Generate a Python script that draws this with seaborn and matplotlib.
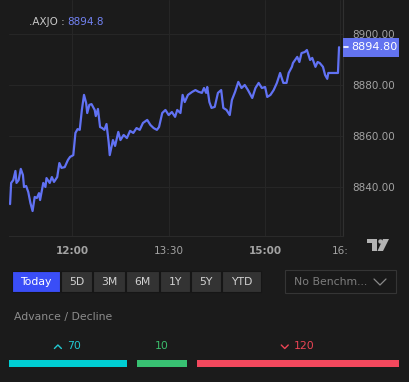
import numpy as np
import pandas as pd
import matplotlib
matplotlib.use("Agg")
import matplotlib.pyplot as plt
import matplotlib.transforms as mtransforms
from matplotlib.patches import Rectangle, Polygon, Circle
from matplotlib.lines import Line2D
import seaborn as sns

# ---------------- data ----------------
symbol = ".AXJO"
last_price = 8894.8
minutes = [662, 663, 665, 667, 668, 670, 672, 674, 675, 677, 679, 681, 683, 685, 687, 689, 690,
           693, 695, 696, 699, 701, 703, 706, 708, 710, 713, 716, 718, 721, 723, 725, 727, 729,
           731, 733, 734, 736, 738, 741, 742, 744, 746, 748, 750, 752, 754, 755, 758, 760, 763,
           765, 768, 771, 774, 777, 780, 783, 786, 790, 793, 796, 799, 801, 804, 807, 810, 813,
           816, 818, 821, 823, 825, 828, 832, 835, 838, 841, 843, 845, 846, 848, 850, 853, 856,
           859, 861, 864, 867, 869, 872, 875, 878, 881, 884, 888, 891, 894, 897, 900, 902, 905,
           908, 911, 914, 917, 920, 922, 925, 926, 930, 932, 934, 937, 939, 942, 944, 947, 949,
           951, 954, 956, 958, 959, 962, 968, 969]
prices = [8833.3, 8841.6, 8842.7, 8846.3, 8841.6, 8842.7, 8847.1, 8844.7, 8840.0, 8840.4, 8838.0,
          8833.7, 8830.6, 8836.1, 8835.7, 8837.6, 8834.9, 8841.6, 8840.0, 8843.5, 8841.6, 8843.9,
          8842.0, 8843.9, 8849.4, 8847.5, 8847.8, 8850.6, 8851.8, 8852.5, 8861.2, 8862.7, 8862.4,
          8870.2, 8876.1, 8872.9, 8869.0, 8872.2, 8872.5, 8870.2, 8867.8, 8870.6, 8863.5, 8863.1,
          8862.4, 8864.7, 8857.6, 8852.5, 8858.4, 8856.1, 8861.6, 8858.4, 8860.4, 8859.2, 8862.0,
          8861.2, 8863.1, 8862.4, 8865.1, 8866.3, 8864.3, 8863.1, 8862.4, 8863.5, 8869.0, 8870.2,
          8868.2, 8869.4, 8867.5, 8870.2, 8869.0, 8876.1, 8873.3, 8876.1, 8877.3, 8878.0, 8877.3,
          8876.9, 8878.8, 8876.9, 8879.2, 8873.3, 8871.0, 8871.4, 8876.9, 8878.0, 8871.0, 8870.2,
          8868.2, 8874.1, 8877.3, 8881.2, 8878.8, 8880.0, 8878.0, 8874.9, 8878.8, 8880.8, 8878.8,
          8879.2, 8875.3, 8876.1, 8878.0, 8880.8, 8884.7, 8880.8, 8880.8, 8884.7, 8887.1, 8888.6,
          8891.0, 8889.0, 8892.5, 8892.9, 8893.7, 8889.8, 8890.6, 8887.1, 8889.0, 8888.6, 8887.1,
          8883.9, 8882.4, 8884.7, 8884.7, 8884.7, 8894.8]
y_ticks = [8840, 8860, 8880, 8900]
x_tick_minutes = [720, 810, 900, 970]
x_tick_labels = ["12:00", "13:30", "15:00", "16:"]
range_buttons = ["Today", "5D", "3M", "6M", "1Y", "5Y", "YTD"]
benchmark_label = "No Benchm..."
breadth_title = "Advance / Decline"
breadth_counts = [70, 10, 120]
breadth_arrow = ["up", None, "down"]

# ---------------- style ----------------
sns.set_theme(style="dark")
plt.rcParams['font.family'] = ['DejaVu Sans']
BG = "#1b1b1b"
LINE = "#6172f4"
GRID = "#262626"
TXT = "#a3a3a3"

W, H = 410, 382
fig = plt.figure(figsize=(W / 100, H / 100), dpi=100, facecolor=BG)
PX = mtransforms.Affine2D().scale(1 / W, -1 / H).translate(0, 1) + fig.transFigure

# ---------------- main chart ----------------
ax = fig.add_axes([9 / W, 1 - 236 / H, 334 / W, 236 / H])
ax.set_facecolor(BG)
df = pd.DataFrame({"minute": minutes, "price": prices})
sns.lineplot(data=df, x="minute", y="price", ax=ax, color=LINE, lw=1.6, sort=False)
ax.set_xlim(661, 972.7)
ax.set_ylim(8820.8, 8913.3)
ax.set_xlabel("")
ax.set_ylabel("")
ax.grid(True, color=GRID, lw=0.8)
ax.set_axisbelow(True)
for s in ["top", "left"]:
    ax.spines[s].set_visible(False)
ax.spines["right"].set_color("#303030")
ax.spines["bottom"].set_color("#2a2a2a")
ax.spines["right"].set_linewidth(0.8)
ax.spines["bottom"].set_linewidth(0.8)

ax.yaxis.tick_right()
ax.set_yticks(y_ticks)
ax.set_yticklabels([f"{v:.2f}" for v in y_ticks])
ax.tick_params(axis="y", length=0, pad=6.5, labelcolor=TXT, labelsize=7.5)
ax.set_xticks(x_tick_minutes)
ax.set_xticklabels(x_tick_labels)
ax.tick_params(axis="x", length=0, pad=7, labelcolor=TXT, labelsize=7.5)
for lbl in ax.get_xticklabels():
    if lbl.get_text() in ("12:00", "15:00"):
        lbl.set_fontweight("bold")

# last price tag
ylo, yhi = ax.get_ylim()
units_per_px = (yhi - ylo) / 236
tag_tr = mtransforms.blended_transform_factory(fig.transFigure, ax.transData)
fig.add_artist(Rectangle((343 / W, last_price - 9.5 * units_per_px), 56 / W, 19 * units_per_px,
                         transform=tag_tr, facecolor="#6373f0", edgecolor="none", clip_on=False))
fig.add_artist(Line2D([344 / W, 348 / W], [last_price, last_price], transform=tag_tr,
                      color="white", lw=1.2))
fig.text(351 / W, last_price, f"{last_price:.2f}", transform=tag_tr, color="white",
         fontsize=8, va="center", ha="left")

# title
fig.text(29, 22, f"{symbol} : ", transform=PX, color="#c8c8c8", fontsize=7.5, va="center")
fig.text(67, 22, f"{last_price}", transform=PX, color="#7282f2", fontsize=7.5, va="center")

# TradingView logo
logo = "#b3b3b3"
fig.add_artist(Polygon([(367, 239), (377, 239), (377, 251), (372, 251), (372, 243), (367, 243)],
                       closed=True, transform=PX, facecolor=logo, edgecolor="none"))
fig.add_artist(Circle((380.5, 241.5), 2.2, transform=PX, facecolor=logo, edgecolor="none"))
fig.add_artist(Polygon([(383, 239), (389, 239), (383, 251), (377.5, 251)],
                       closed=True, transform=PX, facecolor=logo, edgecolor="none"))

# ---------------- range buttons ----------------
btn_pos = [(12, 60), (61, 92), (93, 125), (126, 159), (160, 190), (191, 221), (222, 261)]
for name, (x0, x1) in zip(range_buttons, btn_pos):
    active = name == "Today"
    fig.add_artist(Rectangle((x0, 271), x1 - x0, 21, transform=PX,
                             facecolor="#3a4ef7" if active else "#333333",
                             edgecolor="#161616", lw=0.8))
    fig.text((x0 + x1) / 2, 282, name, transform=PX, ha="center", va="center",
             color="white" if active else "#d2d2d2", fontsize=7.8)

# benchmark dropdown
fig.add_artist(Rectangle((285, 270), 111, 23, transform=PX, facecolor="#191919",
                         edgecolor="#353535", lw=0.8))
fig.text(294, 282, benchmark_label, transform=PX, color="#7d7d7d", fontsize=7.8,
         va="center", ha="left")
fig.add_artist(Line2D([374, 380, 386], [279, 285, 279], transform=PX, color="#8a8a8a", lw=0.9))

# ---------------- advance / decline ----------------
fig.text(14, 317, breadth_title, transform=PX, color="#8c8c8c", fontsize=7.8,
         va="center", ha="left")
bx = fig.add_axes([9 / W, 1 - 367 / H, 390 / W, 7 / H])
bx.set_facecolor(BG)
bx.axis("off")
disp = np.maximum(np.array(breadth_counts, dtype=float), 30)
gap = 6
lefts = np.concatenate([[0], np.cumsum(disp + gap)[:-1]])
bar_colors = ["#00ced3", "#38c172", "#f2485d"]
lbl_colors = ["#22c8d0", "#3bbd6c", "#ec4455"]
bx.barh([0, 0, 0], disp, left=lefts, height=1.0, color=bar_colors, edgecolor="none", linewidth=0)
bx.set_xlim(0, disp.sum() + 2 * gap)
bx.set_ylim(-0.5, 0.5)

fig.canvas.draw()
renderer = fig.canvas.get_renderer()
for l, w, c, arrow, col in zip(lefts, disp, breadth_counts, breadth_arrow, lbl_colors):
    cx_disp = bx.transData.transform((l + w / 2, 0))[0]
    cx = cx_disp / fig.dpi * 100 * (W / (fig.get_figwidth() * 100))
    t = fig.text(0, 346, f"{c}", transform=PX, ha="left", va="center", color=col, fontsize=7.8)
    tw = t.get_window_extent(renderer).width
    if arrow is None:
        t.set_x(cx - tw / 2)
        continue
    group = 7 + 6 + tw
    x0 = cx - group / 2
    t.set_x(x0 + 13)
    if arrow == "up":
        pts = ([x0, x0 + 3.5, x0 + 7], [348.5, 345, 348.5])
    else:
        pts = ([x0, x0 + 3.5, x0 + 7], [345, 348.5, 345])
    fig.add_artist(Line2D(pts[0], pts[1], transform=PX, color=col, lw=1.0))

fig.savefig("out.png", dpi=100, facecolor=BG)
